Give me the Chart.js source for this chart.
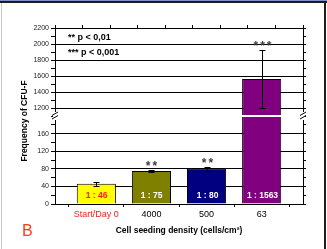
<!DOCTYPE html>
<html lang="en">
<head>
  <meta charset="UTF-8" />
  <title>Frequency of CFU-F</title>
  <script src="https://cdn.jsdelivr.net/npm/chart.js"></script>
  <style>
    html, body { margin: 0; padding: 0; background: #fff; }
    body { width: 327px; height: 249px; position: relative; overflow: hidden; font-family: "Liberation Sans", Arial, sans-serif; }
    #cfuChart { position: absolute; left: 0; top: 0; }
    .edge { position: absolute; }
    .ytitle { position: absolute; left: 23.5px; top: 121px; transform: translate(-50%, -50%) rotate(-90deg); white-space: nowrap; font-weight: bold; font-size: 8.5px; color: #000; }
    .note { position: absolute; left: 68px; font-weight: bold; font-size: 9px; line-height: 10px; white-space: nowrap; color: #000; }
    .panel { position: absolute; left: 22px; top: 223px; font-size: 16px; line-height: 16px; color: #ff3a1a; }
  </style>
</head>
<body>

  <!-- frame edges -->
  <div class="edge" style="left:0; top:0; width:327px; height:1px; background:#7d90c2;"></div>
  <div class="edge" style="left:0; top:1px; width:327px; height:2px; background:#1c1c1c;"></div>
  <div class="edge" style="left:1px; top:3px; width:1px; height:246px; background:#c8c8c8;"></div>
  <div class="edge" style="left:324px; top:3px; width:2px; height:246px; background:#1c1c1c;"></div>

  <canvas id="cfuChart" width="327" height="249"></canvas>

  <div class="ytitle">Frequency of CFU-F</div>
  <div class="note" style="top:32px;">** p &lt; 0,01</div>
  <div class="note" style="top:47px;">*** p &lt; 0,001</div>
  <div class="panel">B</div>

  <script>
    // data
    const categories = ["Start/Day 0", "4000", "500", "63"];
    const cfuFrequency = [46, 75, 80, 1563];
    const cfuError = [4, 3, 5, 365];
    const ratioLabels = ["1 : 46", "1 : 75", "1 : 80", "1 : 1563"];
    const significance = ["", "**", "**", "***"];
    const lowTicks = [0, 40, 80, 120, 160];
    const highTicks = [1200, 1400, 1600, 1800, 2000, 2200];

    // broken y axis: two stacked ranges
    const lowMin = 0, lowMax = 200;
    const highMin = 1100, highMax = 2200;

    const barColors = ["#ffff00", "#808000", "#000080", "#800080"];
    const ratioColors = ["#ff1a1a", "#ffffff", "#ffffff", "#ffffff"];

    Chart.defaults.font.family = '"Liberation Sans", Arial, sans-serif';

    const lowData = cfuFrequency.map((v, i) => ({ x: i, y: Math.min(v, lowMax) }));
    const highData = cfuFrequency
      .map((v, i) => ({ x: i, y: [highMin, v] }))
      .filter(d => d.y[1] > lowMax);

    const barStyle = {
      backgroundColor: c => barColors[c.raw ? c.raw.x : 0],
      borderColor: "#000",
      borderWidth: 1,
      grouped: false,
      categoryPercentage: 1,
      barPercentage: 0.71,
      xAxisID: "x"
    };

    // error bars, stars, ratio labels and the axis break
    const extras = {
      id: "extras",
      afterDatasetsDraw(chart) {
        const { ctx, chartArea, scales } = chart;
        const x = scales.x, lo = scales.yLow, hi = scales.yHigh;
        const joinY = lo.top;

        ctx.save();
        // white gap through the broken bar
        ctx.fillStyle = "#fff";
        ctx.fillRect(chartArea.left + 1, joinY - 1, chartArea.width - 2, 2);

        // break marks on both axes
        [chartArea.left, chartArea.right].forEach(ax => {
          ctx.fillStyle = "#fff";
          ctx.fillRect(ax - 2, joinY - 4, 4, 8);
          ctx.strokeStyle = "#000";
          ctx.lineWidth = 1;
          ctx.beginPath();
          ctx.moveTo(ax - 3, joinY - 0.5); ctx.lineTo(ax + 3, joinY - 4);
          ctx.moveTo(ax - 3, joinY + 3); ctx.lineTo(ax + 3, joinY - 0.5);
          ctx.stroke();
        });

        cfuFrequency.forEach((v, i) => {
          const ys = v > lowMax ? hi : lo;
          const px = Math.round(x.getPixelForValue(i)) + 0.5;
          const yTop = Math.round(ys.getPixelForValue(v + cfuError[i])) + 0.5;
          const yBot = Math.round(ys.getPixelForValue(v - cfuError[i])) + 0.5;
          ctx.strokeStyle = "#000";
          ctx.lineWidth = 1;
          ctx.beginPath();
          ctx.moveTo(px, yTop); ctx.lineTo(px, yBot);
          ctx.moveTo(px - 3, yTop); ctx.lineTo(px + 3, yTop);
          ctx.moveTo(px - 3, yBot); ctx.lineTo(px + 3, yBot);
          ctx.stroke();

          if (significance[i]) {
            ctx.fillStyle = "#3c3c3c";
            ctx.font = 'bold 12px "Liberation Sans", Arial, sans-serif';
            ctx.textAlign = "center";
            ctx.textBaseline = "alphabetic";
            ctx.letterSpacing = "2px";
            ctx.fillText(significance[i], px + 1, yTop - 1);
            ctx.letterSpacing = "0px";
          }

          ctx.fillStyle = ratioColors[i];
          ctx.font = 'bold 8.5px "Liberation Sans", Arial, sans-serif';
          ctx.textAlign = "center";
          ctx.textBaseline = "middle";
          ctx.fillText(ratioLabels[i], px, lo.getPixelForValue(lowMin) - 8.5);
        });
        ctx.restore();
      }
    };

    new Chart(document.getElementById("cfuChart"), {
      type: "bar",
      data: {
        datasets: [
          Object.assign({ label: "low", data: lowData, yAxisID: "yLow" }, barStyle),
          Object.assign({ label: "high", data: highData, yAxisID: "yHigh" }, barStyle)
        ]
      },
      options: {
        responsive: false,
        animation: false,
        layout: { padding: { left: 0, right: 20, top: 25, bottom: 0 } },
        plugins: { legend: { display: false }, tooltip: { enabled: false } },
        scales: {
          x: {
            type: "linear",
            position: "bottom",
            offset: false,
            min: -0.75,
            max: categories.length - 0.25,
            afterBuildTicks: s => { s.ticks = categories.map((c, i) => ({ value: i })); },
            afterFit: s => { s.height = 45; },
            ticks: {
              autoSkip: false,
              maxRotation: 0,
              padding: 2,
              font: { size: 9 },
              color: c => (c.tick && c.tick.value === 0 ? "#ff1a1a" : "#000"),
              callback: v => categories[v]
            },
            grid: { offset: true, drawOnChartArea: false, tickLength: 3, color: "#000" },
            border: { color: "#000" },
            title: {
              display: true,
              text: "Cell seeding density (cells/cm²)",
              color: "#000",
              font: { size: 8.5, weight: "bold" },
              padding: { top: 0, bottom: 13 }
            }
          },
          xTop: {
            type: "linear",
            position: "top",
            offset: false,
            min: -0.75,
            max: categories.length - 0.25,
            afterFit: s => { s.height = 3; },
            ticks: { display: false, stepSize: 0.5, includeBounds: false },
            grid: { offset: false, drawOnChartArea: false, tickLength: 3, color: "#000" },
            border: { color: "#000" }
          },
          yLow: {
            type: "linear",
            position: "left",
            stack: "left",
            stackWeight: 1,
            min: lowMin,
            max: lowMax,
            afterFit: s => { s.width = 55; },
            ticks: {
              stepSize: 20,
              autoSkip: false,
              padding: 2,
              color: "#222",
              font: { size: 7 },
              callback: v => (lowTicks.includes(v) ? v : "")
            },
            grid: {
              color: c => (c.tick && c.tick.value > 0 && lowTicks.includes(c.tick.value) ? "#000" : "rgba(0,0,0,0)"),
              tickColor: "#000",
              tickLength: 4
            },
            border: { color: "#000" }
          },
          yHigh: {
            type: "linear",
            position: "left",
            stack: "left",
            stackWeight: 1,
            min: highMin,
            max: highMax,
            afterFit: s => { s.width = 55; },
            ticks: {
              stepSize: 100,
              autoSkip: false,
              padding: 2,
              color: "#222",
              font: { size: 7 },
              callback: v => (highTicks.includes(v) ? v : "")
            },
            grid: {
              color: c => (c.tick && highTicks.includes(c.tick.value) ? "#000" : "rgba(0,0,0,0)"),
              tickColor: "#000",
              tickLength: 4
            },
            border: { color: "#000" }
          },
          yHighR: {
            type: "linear",
            position: "right",
            stack: "right",
            stackWeight: 1,
            min: highMin,
            max: highMax,
            afterFit: s => { s.width = 4; },
            ticks: { display: false, stepSize: 100 },
            grid: { drawOnChartArea: false, tickLength: 3, color: "#000" },
            border: { color: "#000" }
          },
          yLowR: {
            type: "linear",
            position: "right",
            stack: "right",
            stackWeight: 1,
            min: lowMin,
            max: lowMax,
            afterFit: s => { s.width = 4; },
            ticks: { display: false, stepSize: 20 },
            grid: { drawOnChartArea: false, tickLength: 3, color: "#000" },
            border: { color: "#000" }
          }
        }
      },
      plugins: [extras]
    });
  </script>

</body>
</html>
